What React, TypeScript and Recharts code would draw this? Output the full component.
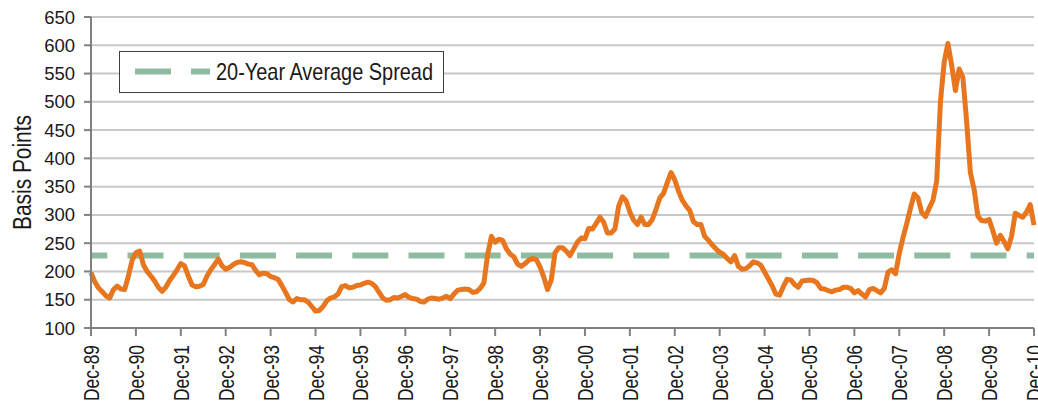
import { LineChart, Line, XAxis, YAxis, CartesianGrid, ReferenceLine, Label } from 'recharts'

// year-end tick labels, one per 12 months starting Dec-89
const yearLabels = [
  'Dec-89', 'Dec-90', 'Dec-91', 'Dec-92', 'Dec-93', 'Dec-94', 'Dec-95',
  'Dec-96', 'Dec-97', 'Dec-98', 'Dec-99', 'Dec-00', 'Dec-01', 'Dec-02',
  'Dec-03', 'Dec-04', 'Dec-05', 'Dec-06', 'Dec-07', 'Dec-08', 'Dec-09', 'Dec-10',
]

const yTicks = [100, 150, 200, 250, 300, 350, 400, 450, 500, 550, 600, 650]

const averageSpread = 228

// monthly spread in basis points, Dec-89 .. Dec-10
const spreadBps = [
  198, 182, 171, 164, 157, 153, 168, 174, 169, 168, 192, 220, 233,
  236, 212, 200, 192, 183, 172, 165, 172, 184, 193, 203, 214,
  210, 192, 176, 173, 174, 177, 192, 203, 212, 222, 210, 204,
  207, 212, 216, 217, 216, 213, 212, 202, 194, 197, 196, 191,
  189, 186, 175, 163, 150, 146, 152, 150, 150, 146, 138, 130,
  131, 138, 148, 153, 155, 160, 173, 175, 171, 172, 175, 176,
  179, 181, 179, 173, 163, 153, 149, 150, 154, 153, 156, 159,
  154, 152, 151, 147, 146, 151, 153, 152, 151, 153, 156, 152,
  160, 167, 168, 169, 168, 163, 164, 170, 180, 230, 262, 252,
  257, 255, 240, 231, 226, 213, 209, 214, 220, 223, 221, 208,
  190, 168, 185, 233, 242, 242, 236, 228, 240, 252, 259, 258,
  276, 275, 285, 296, 287, 268, 268, 275, 315, 332, 325, 305,
  291, 283, 296, 283, 283, 292, 310, 330, 338, 357, 375, 362,
  342, 326, 316, 308, 288, 283, 283, 262, 255, 247, 240, 234,
  230, 223, 217, 228, 209, 204, 205, 210, 217, 215, 211, 199,
  187, 175, 160, 158, 173, 186, 185, 177, 172, 183, 184, 185,
  184, 180, 170, 169, 166, 164, 167, 168, 172, 172, 170, 162,
  166, 160, 155, 168, 170, 166, 162, 170, 199, 203, 196, 232,
  260, 285, 312, 337, 330, 304, 297, 312, 326, 360, 500, 570,
  603, 565, 520, 558, 543, 465, 375, 345, 298, 290, 289, 292,
  272, 250, 264, 253, 240, 262, 303, 299, 296, 305, 318, 282,
]

const data = spreadBps.map((spread, month) => ({ month, spread }))
const xTicks = yearLabels.map((_, i) => i * 12)

// no narrow font installed, so squeeze Liberation Sans with textLength
const FONT = "'Liberation Sans', Arial, sans-serif"
const AXIS = '#808080'
const AVG = '#8fbba0'
const ORANGE = '#e8761f'
const INK = '#1a1a1a'

function MonthTick(props: any) {
  const { x, payload } = props
  const bx = x + 8
  const by = 345
  return (
    <text
      x={bx}
      y={by}
      transform={`rotate(-90 ${bx} ${by})`}
      textAnchor='end'
      fontFamily={FONT}
      fontSize={22}
      textLength={56}
      lengthAdjust='spacingAndGlyphs'
      fill={INK}
    >
      {yearLabels[Math.round(payload.value / 12)]}
    </text>
  )
}

function AvgLegend() {
  return (
    <div
      style={{
        position: 'absolute',
        left: 119,
        top: 51,
        width: 323,
        height: 40,
        border: '1.5px solid #404040',
        background: '#fff',
      }}
    >
      <svg width={323} height={40} style={{ position: 'absolute', left: 0, top: 0 }}>
        <line x1={15} x2={51} y1={19.5} y2={19.5} stroke={AVG} strokeWidth={6} />
        <line x1={71} x2={90} y1={19.5} y2={19.5} stroke={AVG} strokeWidth={6} />
        <text
          x={96}
          y={28}
          fontFamily={FONT}
          fontSize={24}
          textLength={217}
          lengthAdjust='spacingAndGlyphs'
          fill={INK}
        >
          20-Year Average Spread
        </text>
      </svg>
    </div>
  )
}

export default function App() {
  return (
    <div style={{ position: 'absolute', left: 0, top: 0, width: 1038, height: 403 }}>
      <LineChart width={1038} height={403} data={data} margin={{ top: 17, right: 4, bottom: 0, left: 0 }}>
        <CartesianGrid vertical={false} stroke='#c8c8c8' strokeWidth={2} />
        <XAxis
          dataKey='month'
          type='number'
          domain={[0, 252]}
          ticks={xTicks}
          interval={0}
          height={75}
          tickSize={8}
          stroke={AXIS}
          strokeWidth={2}
          tick={<MonthTick />}
        />
        <YAxis
          domain={[100, 650]}
          ticks={yTicks}
          interval={0}
          width={91}
          tickSize={7}
          tickMargin={9}
          stroke={AXIS}
          strokeWidth={2}
          tick={{ fill: INK, fontSize: 18.5, fontFamily: FONT }}
        >
          <Label
            content={() => (
              <text
                x={30.5}
                y={172.5}
                transform='rotate(-90 30.5 172.5)'
                textAnchor='middle'
                fontFamily={FONT}
                fontSize={25}
                textLength={115}
                lengthAdjust='spacingAndGlyphs'
                fill={INK}
              >
                Basis Points
              </text>
            )}
          />
        </YAxis>
        <ReferenceLine
          y={averageSpread}
          stroke={AVG}
          strokeWidth={6}
          strokeDasharray='36 20.2'
          strokeDashoffset={19.7}
        />
        <Line
          type='linear'
          dataKey='spread'
          stroke={ORANGE}
          strokeWidth={5}
          strokeLinejoin='round'
          dot={false}
          isAnimationActive={false}
        />
      </LineChart>
      <AvgLegend />
    </div>
  )
}
